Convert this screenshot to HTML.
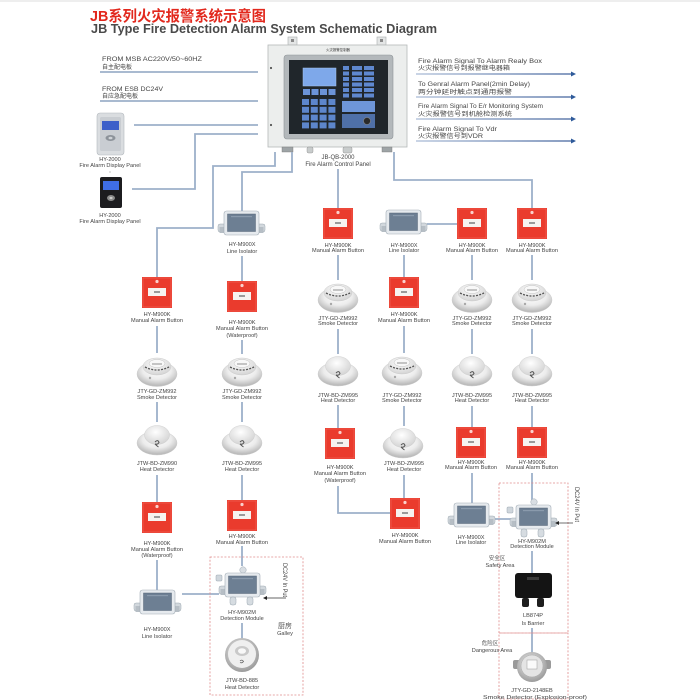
<!DOCTYPE html>
<html><head><meta charset="utf-8"><style>
html,body{margin:0;padding:0;background:#fff;width:700px;height:700px;overflow:hidden}
svg{display:block}
.t{font-family:"Liberation Sans","Noto Sans CJK SC",sans-serif;font-size:5.6px;fill:#444;text-anchor:middle}
.s{font-family:"Liberation Sans","Noto Sans CJK SC",sans-serif;fill:#444}
.w{stroke:#9db0ca;stroke-width:1.8;fill:none}
</style></head><body>
<svg width="700" height="700" viewBox="0 0 700 700" xmlns="http://www.w3.org/2000/svg">
<defs>
<radialGradient id="rg" cx="50%" cy="35%" r="60%"><stop offset="0" stop-color="#ffffff"/><stop offset="0.6" stop-color="#ececec"/><stop offset="1" stop-color="#bcbcbc"/></radialGradient>
<radialGradient id="rg2" cx="45%" cy="35%" r="65%"><stop offset="0" stop-color="#ffffff"/><stop offset="1" stop-color="#d4d4d4"/></radialGradient>
<radialGradient id="rg3" cx="45%" cy="40%" r="60%"><stop offset="0" stop-color="#f4f4f4"/><stop offset="1" stop-color="#9c9c9c"/></radialGradient>
<linearGradient id="ar" gradientUnits="userSpaceOnUse" x1="416" y1="0" x2="576" y2="0"><stop offset="0" stop-color="#aabbd6"/><stop offset="1" stop-color="#3d5f9a"/></linearGradient>
<g id="mab">
<rect x="0" y="0" width="30" height="31" fill="#ea3b2d"/>
<rect x="1" y="1" width="28" height="29" fill="none" stroke="#f26a5c" stroke-width="0.6"/>
<circle cx="15" cy="4.5" r="1.6" fill="#fbd0cb"/>
<rect x="6" y="11" width="18" height="8" fill="#f6f3f0"/>
<rect x="12" y="14" width="6" height="2" fill="#9a9a9a"/>
</g>
<g id="smk">
<ellipse cx="20" cy="20" rx="20" ry="12.5" fill="url(#rg)" stroke="#c6c6c6" stroke-width="0.4"/>
<ellipse cx="20" cy="12.5" rx="14" ry="8.5" fill="url(#rg2)" stroke="#c4c4c4" stroke-width="0.4"/>
<path d="M8 13 Q20 19 32 13" stroke="#555" stroke-width="1.3" fill="none" stroke-dasharray="2 1.3"/>
<ellipse cx="20" cy="9.5" rx="8" ry="4" fill="#f8f8f8" stroke="#b8b8b8" stroke-width="0.4"/>
<path d="M15 10 h10" stroke="#777" stroke-width="0.8"/>
<circle cx="13" cy="24" r="1.2" fill="#a8a8a8"/>
</g>
<g id="heat">
<ellipse cx="20" cy="20" rx="20" ry="12" fill="url(#rg)" stroke="#c6c6c6" stroke-width="0.4"/>
<ellipse cx="20" cy="12" rx="12.5" ry="9.5" fill="url(#rg2)" stroke="#c8c8c8" stroke-width="0.4"/>
<path d="M18 19 q3 -3 4 0.5 q-1.5 2.5 -4 1.5 q2 2 3.5 3" stroke="#555" fill="none" stroke-width="1"/>
</g>
<g id="iso">
<rect x="0" y="13" width="47" height="8" rx="2" fill="#d2d8dd" stroke="#9ea9b2" stroke-width="0.5"/>
<rect x="1.5" y="16" width="5" height="6" fill="#b6bec5"/>
<rect x="40.5" y="16" width="5" height="6" fill="#b6bec5"/>
<rect x="6" y="0" width="35" height="24" rx="2.5" fill="#e6eaee" stroke="#a3adb6" stroke-width="0.6"/>
<rect x="9.5" y="3" width="28" height="17.5" fill="#6d7f93" stroke="#566678" stroke-width="0.5"/>
<rect x="13" y="5" width="21" height="1.2" fill="#8a9aac"/>
</g>
<g id="dm">
<rect x="-2" y="2" width="6" height="6" rx="1" fill="#cfd6dc" stroke="#9aa6b0" stroke-width="0.5"/>
<circle cx="25" cy="-3" r="3.2" fill="#d9dee3" stroke="#9aa6b0" stroke-width="0.5"/>
<use href="#iso" x="1" y="0"/>
<rect x="12" y="24" width="6" height="8" rx="2" fill="#d6dce1" stroke="#9aa6b0" stroke-width="0.5"/>
<rect x="29" y="24" width="6" height="8" rx="2" fill="#d6dce1" stroke="#9aa6b0" stroke-width="0.5"/>
</g>
</defs>

<rect x="0" y="0" width="700" height="2" fill="#eeeeee"/>
<!-- Title -->
<text x="90" y="21" style="font-family:'Liberation Sans','Noto Sans CJK SC',sans-serif;font-size:15px;font-weight:bold;fill:#e2281d" textLength="176" lengthAdjust="spacingAndGlyphs">JB系列火灾报警系统示意图</text>
<text x="91" y="33" style="font-family:'Liberation Sans',sans-serif;font-size:12.5px;font-weight:bold;fill:#4a4a4a" textLength="346" lengthAdjust="spacingAndGlyphs">JB Type Fire Detection Alarm System Schematic Diagram</text>

<!-- Left inputs -->
<text x="102" y="61" class="s" style="font-size:6.3px" textLength="100" lengthAdjust="spacingAndGlyphs">FROM MSB AC220V/50~60HZ</text>
<text x="102" y="69" class="s" style="font-size:6px" textLength="30" lengthAdjust="spacingAndGlyphs">自主配电板</text>
<line x1="100" y1="72" x2="258" y2="72" class="w" stroke-width="1.5"/>
<text x="102" y="91" class="s" style="font-size:6.3px" textLength="61" lengthAdjust="spacingAndGlyphs">FROM ESB DC24V</text>
<text x="102" y="98" class="s" style="font-size:6px" textLength="36" lengthAdjust="spacingAndGlyphs">自应急配电板</text>
<line x1="100" y1="101" x2="258" y2="101" class="w" stroke-width="1.5"/>

<!-- Display panels -->
<rect x="97" y="113" width="27" height="42" rx="3" fill="#dadde0" stroke="#b3b8bd" stroke-width="0.6"/>
<rect x="100" y="117" width="21" height="34" rx="1.5" fill="#c9cdd2"/>
<rect x="102" y="121" width="17" height="9" fill="#3d60c9"/>
<ellipse cx="110.5" cy="138" rx="5" ry="3" fill="#8d939a"/>
<ellipse cx="110.5" cy="138" rx="2" ry="1.3" fill="#cfd3d7"/>
<text x="110" y="161" class="t">HY-2000</text>
<text x="110" y="167" class="t">Fire Alarm Display Panel</text>
<circle cx="110" cy="172" r="0.6" fill="#999"/>
<rect x="100" y="177" width="22" height="31" rx="2" fill="#1c1c1f"/>
<rect x="103" y="181" width="16" height="9" fill="#3f6ee6"/>
<ellipse cx="111" cy="198" rx="4" ry="3" fill="#8a8a8a"/>
<ellipse cx="111" cy="198" rx="1.6" ry="1.1" fill="#ccc"/>
<text x="110" y="217" class="t">HY-2000</text>
<text x="110" y="223" class="t">Fire Alarm Display Panel</text>

<!-- Wires from left -->
<path class="w" d="M134 125 H258"/>
<path class="w" d="M258 134 H195 V189 H132"/>

<!-- Control panel -->
<rect x="288" y="37" width="9" height="8" fill="#e4e6e6" stroke="#a9adad" stroke-width="0.6"/>
<rect x="291" y="39" width="3" height="3" fill="#888"/>
<rect x="377" y="37" width="9" height="8" fill="#e4e6e6" stroke="#a9adad" stroke-width="0.6"/>
<rect x="380" y="39" width="3" height="3" fill="#888"/>
<rect x="268" y="45" width="139" height="102" fill="#eceeed" stroke="#b5b9b9" stroke-width="0.8"/>
<circle cx="271" cy="68" r="1.1" fill="#555"/>
<circle cx="271" cy="125" r="1.1" fill="#555"/>
<text x="338" y="51" class="t" style="font-size:3.4px;fill:#333">火灾报警控制器</text>
<rect x="284" y="55" width="109" height="84" rx="3" fill="#b3b8bb" stroke="#8e9498" stroke-width="0.6"/>
<rect x="289" y="60" width="99" height="74" fill="#20262b"/>
<rect x="303" y="68" width="33" height="18" fill="#7ea8ea" stroke="#a8c4ee" stroke-width="0.5"/>
<g fill="#6b93d8">
<rect x="303" y="89" width="7" height="6"/><rect x="311.5" y="89" width="7" height="6"/><rect x="320" y="89" width="7" height="6"/><rect x="328.5" y="89" width="7" height="6"/>
</g>
<g fill="#5d86cc">
<rect x="302" y="99" width="7" height="6"/><rect x="310.8" y="99" width="7" height="6"/><rect x="319.6" y="99" width="7" height="6"/><rect x="328.4" y="99" width="7" height="6"/>
<rect x="302" y="106.8" width="7" height="6"/><rect x="310.8" y="106.8" width="7" height="6"/><rect x="319.6" y="106.8" width="7" height="6"/><rect x="328.4" y="106.8" width="7" height="6"/>
<rect x="302" y="114.6" width="7" height="6"/><rect x="310.8" y="114.6" width="7" height="6"/><rect x="319.6" y="114.6" width="7" height="6"/><rect x="328.4" y="114.6" width="7" height="6"/>
<rect x="302" y="122.4" width="7" height="6"/><rect x="310.8" y="122.4" width="7" height="6"/><rect x="319.6" y="122.4" width="7" height="6"/><rect x="328.4" y="122.4" width="7" height="6"/>
</g>
<g fill="#5f88cf">
<rect x="343" y="66" width="6" height="4"/><rect x="343" y="71.5" width="6" height="4"/><rect x="343" y="77" width="6" height="4"/><rect x="343" y="82.5" width="6" height="4"/><rect x="343" y="88" width="6" height="4"/><rect x="343" y="93.5" width="6" height="4"/>
<rect x="352" y="66" width="10" height="4"/><rect x="352" y="71.5" width="10" height="4"/><rect x="352" y="77" width="10" height="4"/><rect x="352" y="82.5" width="10" height="4"/><rect x="352" y="88" width="10" height="4"/><rect x="352" y="93.5" width="10" height="4"/>
<rect x="364" y="66" width="10" height="4"/><rect x="364" y="71.5" width="10" height="4"/><rect x="364" y="77" width="10" height="4"/><rect x="364" y="82.5" width="10" height="4"/><rect x="364" y="88" width="10" height="4"/><rect x="364" y="93.5" width="10" height="4"/>
</g>
<rect x="342" y="101" width="33" height="11" fill="#6e96d9"/>
<rect x="342" y="114" width="33" height="14" fill="#4f70a8"/>
<circle cx="367" cy="121" r="3.5" fill="#2a2a2a" stroke="#888" stroke-width="0.6"/>
<rect x="282" y="147" width="11" height="5" fill="#9ea4a6" stroke="#777" stroke-width="0.4"/>
<rect x="307" y="147" width="6" height="6" rx="1.5" fill="#c8cccc" stroke="#888" stroke-width="0.4"/>
<rect x="343" y="147" width="9" height="6" rx="1.5" fill="#c8cccc" stroke="#888" stroke-width="0.4"/>
<rect x="382" y="147" width="10" height="5" fill="#9ea4a6" stroke="#777" stroke-width="0.4"/>
<text x="338" y="159" class="t" style="font-size:6px">JB-QB-2000</text>
<text x="338" y="166" class="t" style="font-size:6px">Fire Alarm Control Panel</text>

<!-- Right outputs -->
<text x="418" y="63" class="s" style="font-size:6px" textLength="124" lengthAdjust="spacingAndGlyphs">Fire Alarm Signal To Alarm Realy Box</text>
<text x="418" y="70" class="s" style="font-size:6px" textLength="92" lengthAdjust="spacingAndGlyphs">火灾报警信号到报警继电器箱</text>
<line x1="416" y1="74" x2="572" y2="74" stroke="url(#ar)" stroke-width="1.3"/>
<polygon points="571,71.5 576,74 571,76.5" fill="#2e5a9a"/>
<text x="418" y="86" class="s" style="font-size:6px" textLength="112" lengthAdjust="spacingAndGlyphs">To Genral Alarm Panel(2min Delay)</text>
<text x="418" y="94" class="s" style="font-size:6px" textLength="94" lengthAdjust="spacingAndGlyphs">两分钟延时触点到通用报警</text>
<line x1="416" y1="97" x2="572" y2="97" stroke="url(#ar)" stroke-width="1.3"/>
<polygon points="571,94.5 576,97 571,99.5" fill="#2e5a9a"/>
<text x="418" y="108" class="s" style="font-size:6px" textLength="125" lengthAdjust="spacingAndGlyphs">Fire Alarm Signal To E/r Monitoring System</text>
<text x="418" y="116" class="s" style="font-size:6px" textLength="94" lengthAdjust="spacingAndGlyphs">火灾报警信号到机舱检测系统</text>
<line x1="416" y1="119" x2="572" y2="119" stroke="url(#ar)" stroke-width="1.3"/>
<polygon points="571,116.5 576,119 571,121.5" fill="#2e5a9a"/>
<text x="418" y="131" class="s" style="font-size:6px" textLength="79" lengthAdjust="spacingAndGlyphs">Fire Alarm Signal To Vdr</text>
<text x="418" y="138" class="s" style="font-size:6px" textLength="65" lengthAdjust="spacingAndGlyphs">火灾报警信号到VDR</text>
<line x1="416" y1="141" x2="572" y2="141" stroke="url(#ar)" stroke-width="1.3"/>
<polygon points="571,138.5 576,141 571,143.5" fill="#2e5a9a"/>

<!-- Main wires from panel -->
<path class="w" d="M275 152 V166 H213 V228 H157 V277"/>
<path class="w" d="M292 152 V172 H242 V211"/>
<path class="w" d="M338 169 V208"/>
<path class="w" d="M394 152 V180 H532 V208"/>

<!-- Short column wires -->
<path class="w" d="M157 326 V353 M157 402 V422 M157 475 V502 M157 560 V590 M182 594 H219"/>
<path class="w" d="M242 256 V281 M242 340 V354 M242 402 V422 M242 475 V500 M242 546 V566 M242 623 V638"/>
<path class="w" d="M338 255 V280 M338 329 V354 M338 405 V428 M338 486 V513 H390"/>
<path class="w" d="M404 255 V277 M404 326 V353 M404 406 V426 M404 475 V498"/>
<path class="w" d="M427 224 H457"/>
<path class="w" d="M472 255 V280 M472 329 V354 M472 406 V427 M472 473 V503 M495 519 H512"/>
<path class="w" d="M532 255 V280 M532 329 V354 M532 406 V427 M532 473 V500 M532 551 V573 M532 628 V653"/>

<!-- Column A -->
<use href="#mab" x="142" y="277"/>
<text x="157" y="316" class="t">HY-M900K</text>
<text x="157" y="322" class="t">Manual Alarm Button</text>
<use href="#smk" x="137" y="354"/>
<text x="157" y="393" class="t">JTY-GD-ZM992</text>
<text x="157" y="399" class="t">Smoke Detector</text>
<use href="#heat" x="137" y="423"/>
<text x="157" y="465" class="t">JTW-BD-ZM990</text>
<text x="157" y="471" class="t">Heat Detector</text>
<use href="#mab" x="142" y="502"/>
<text x="157" y="545" class="t">HY-M900K</text>
<text x="157" y="551" class="t">Manual Alarm Button</text>
<text x="157" y="557" class="t">(Waterproof)</text>
<use href="#iso" x="134" y="590"/>
<text x="157" y="631" class="t">HY-M900X</text>
<text x="157" y="638" class="t">Line Isolator</text>

<!-- Column B -->
<use href="#iso" x="218" y="211"/>
<text x="242" y="246" class="t">HY-M900X</text>
<text x="242" y="253" class="t">Line Isolator</text>
<use href="#mab" x="227" y="281"/>
<text x="242" y="324" class="t">HY-M900K</text>
<text x="242" y="330" class="t">Manual Alarm Button</text>
<text x="242" y="337" class="t">(Waterproof)</text>
<use href="#smk" x="222" y="354"/>
<text x="242" y="393" class="t">JTY-GD-ZM992</text>
<text x="242" y="399" class="t">Smoke Detector</text>
<use href="#heat" x="222" y="423"/>
<text x="242" y="465" class="t">JTW-BD-ZM995</text>
<text x="242" y="471" class="t">Heat Detector</text>
<use href="#mab" x="227" y="500"/>
<text x="242" y="538" class="t">HY-M900K</text>
<text x="242" y="544" class="t">Manual Alarm Button</text>
<rect x="210" y="557" width="93" height="138" fill="none" stroke="#e08c8c" stroke-width="0.8" stroke-dasharray="2 1.6"/>
<use href="#dm" x="218" y="573"/>
<text x="242" y="614" class="t">HY-M902M</text>
<text x="242" y="620" class="t">Detection Module</text>
<text x="283" y="563" class="s" style="font-size:6px" transform="rotate(90 283 563)" textLength="34" lengthAdjust="spacingAndGlyphs">DC24V In Put</text>
<line x1="286" y1="598" x2="266" y2="598" stroke="#333" stroke-width="0.7"/>
<polygon points="263,598 267,596 267,600" fill="#222"/>
<text x="285" y="628" class="t" style="font-size:7px;fill:#555">厨房</text>
<text x="285" y="635" class="t">Galley</text>
<circle cx="242" cy="655" r="17" fill="url(#rg3)"/>
<circle cx="242" cy="654" r="14" fill="#efefef"/>
<ellipse cx="242" cy="651" rx="7" ry="5" fill="#c9c9c9"/>
<ellipse cx="242" cy="651" rx="4" ry="2.8" fill="#f8f8f8"/>
<path d="M240 661 q2 -2 3.5 0.5 q-1.5 2 -3.5 1" stroke="#666" fill="none" stroke-width="0.8"/>
<text x="242" y="682" class="t">JTW-BD-885</text>
<text x="242" y="689" class="t">Heat Detector</text>

<!-- Column C -->
<use href="#mab" x="323" y="208"/>
<text x="338" y="247" class="t">HY-M900K</text>
<text x="338" y="252" class="t">Manual Alarm Button</text>
<use href="#smk" x="318" y="280"/>
<text x="338" y="320" class="t">JTY-GD-ZM992</text>
<text x="338" y="325" class="t">Smoke Detector</text>
<use href="#heat" x="318" y="354"/>
<text x="338" y="397" class="t">JTW-BD-ZM995</text>
<text x="338" y="402" class="t">Heat Detector</text>
<use href="#mab" x="325" y="428"/>
<text x="340" y="469" class="t">HY-M900K</text>
<text x="340" y="475" class="t">Manual Alarm Button</text>
<text x="340" y="482" class="t">(Waterproof)</text>

<!-- Column D -->
<use href="#iso" x="380" y="210"/>
<text x="404" y="247" class="t">HY-M900X</text>
<text x="404" y="252" class="t">Line Isolator</text>
<use href="#mab" x="389" y="277"/>
<text x="404" y="316" class="t">HY-M900K</text>
<text x="404" y="322" class="t">Manual Alarm Button</text>
<use href="#smk" x="382" y="353"/>
<text x="402" y="397" class="t">JTY-GD-ZM992</text>
<text x="402" y="402" class="t">Smoke Detector</text>
<use href="#heat" x="383" y="426"/>
<text x="404" y="465" class="t">JTW-BD-ZM995</text>
<text x="404" y="471" class="t">Heat Detector</text>
<use href="#mab" x="390" y="498"/>
<text x="405" y="537" class="t">HY-M900K</text>
<text x="405" y="543" class="t">Manual Alarm Button</text>

<!-- Column E -->
<use href="#mab" x="457" y="208"/>
<text x="472" y="247" class="t">HY-M900K</text>
<text x="472" y="252" class="t">Manual Alarm Button</text>
<use href="#smk" x="452" y="280"/>
<text x="472" y="320" class="t">JTY-GD-ZM992</text>
<text x="472" y="325" class="t">Smoke Detector</text>
<use href="#heat" x="452" y="354"/>
<text x="472" y="397" class="t">JTW-BD-ZM995</text>
<text x="472" y="402" class="t">Heat Detector</text>
<use href="#mab" x="456" y="427"/>
<text x="471" y="464" class="t">HY-M900K</text>
<text x="471" y="469" class="t">Manual Alarm Button</text>
<use href="#iso" x="448" y="503"/>
<text x="471" y="539" class="t">HY-M900X</text>
<text x="471" y="544" class="t">Line Isolator</text>

<!-- Column F -->
<use href="#mab" x="517" y="208"/>
<text x="532" y="247" class="t">HY-M900K</text>
<text x="532" y="252" class="t">Manual Alarm Button</text>
<use href="#smk" x="512" y="280"/>
<text x="532" y="320" class="t">JTY-GD-ZM992</text>
<text x="532" y="325" class="t">Smoke Detector</text>
<use href="#heat" x="512" y="354"/>
<text x="532" y="397" class="t">JTW-BD-ZM995</text>
<text x="532" y="402" class="t">Heat Detector</text>
<use href="#mab" x="517" y="427"/>
<text x="532" y="464" class="t">HY-M900K</text>
<text x="532" y="469" class="t">Manual Alarm Button</text>
<rect x="499" y="483" width="69" height="150" fill="none" stroke="#e08c8c" stroke-width="0.8" stroke-dasharray="2 1.6"/>
<rect x="499" y="633" width="69" height="66" fill="none" stroke="#e08c8c" stroke-width="0.8" stroke-dasharray="2 1.6"/>
<use href="#dm" x="509" y="505"/>
<text x="532" y="543" class="t">HY-M902M</text>
<text x="532" y="548" class="t">Detection Module</text>
<text x="575" y="487" class="s" style="font-size:6px" transform="rotate(90 575 487)" textLength="35" lengthAdjust="spacingAndGlyphs">DC24V In Put</text>
<line x1="573" y1="523" x2="558" y2="523" stroke="#333" stroke-width="0.7"/>
<polygon points="555,523 559,521 559,525" fill="#222"/>
<text x="497" y="560" class="t" style="font-size:5.5px;fill:#555">安全区</text>
<text x="500" y="567" class="t">Safety Area</text>
<rect x="515" y="573" width="37" height="25" rx="3" fill="#141414"/>
<rect x="527" y="577" width="12" height="3" fill="#3a3a3a"/>
<rect x="522" y="598" width="7" height="9" rx="2" fill="#1e1e1e"/>
<rect x="537" y="598" width="7" height="9" rx="2" fill="#1e1e1e"/>
<text x="533" y="617" class="t">LB874P</text>
<text x="533" y="625" class="t">Is Barrier</text>
<text x="490" y="645" class="t" style="font-size:5.5px;fill:#555">危险区</text>
<text x="492" y="652" class="t">Dangerous Area</text>
<rect x="513" y="660" width="38" height="9" rx="2" fill="#9a9a9a"/>
<circle cx="532" cy="667" r="15" fill="url(#rg3)"/>
<circle cx="532" cy="666" r="11" fill="#e4e4e4" stroke="#aaa" stroke-width="0.5"/>
<rect x="527" y="660" width="10" height="9" fill="#fafafa" stroke="#999" stroke-width="0.5"/>
<text x="532" y="692" class="t">JTY-GD-2148EB</text>
<text x="535" y="699" class="t" textLength="104" lengthAdjust="spacingAndGlyphs">Smoke Detector  (Explosion-proof)</text>
</svg>
</body></html>
